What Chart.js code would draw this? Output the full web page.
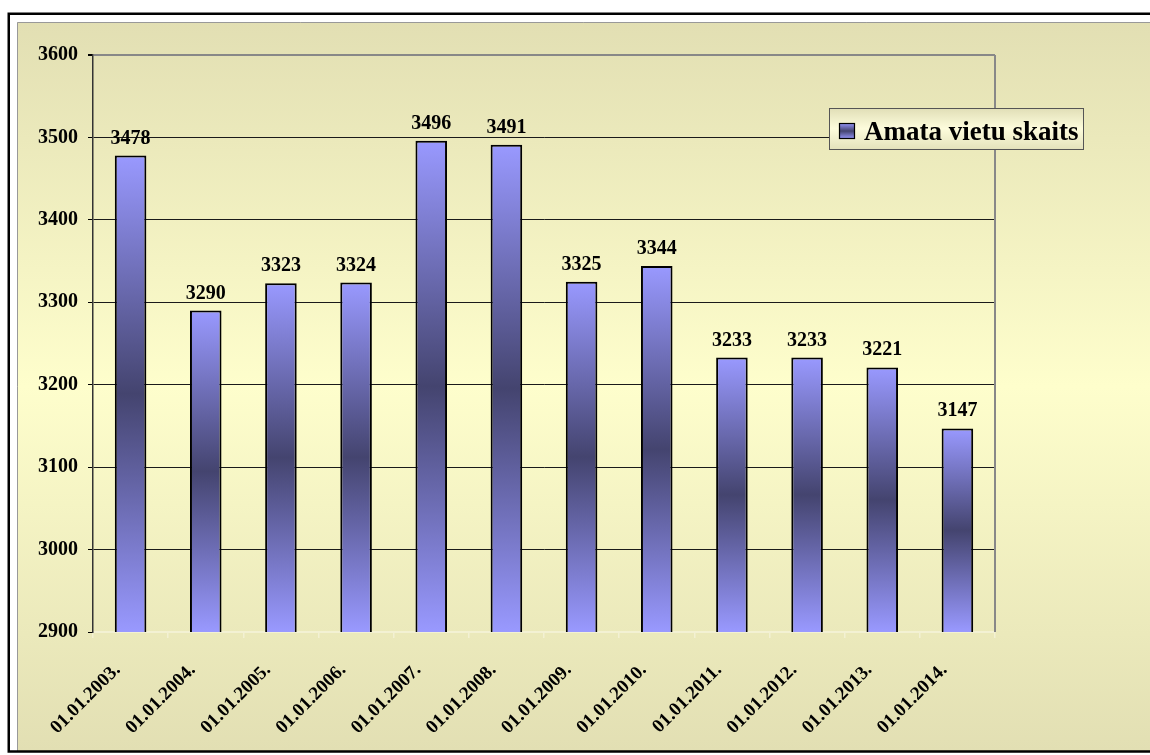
<!DOCTYPE html>
<html><head><meta charset="utf-8">
<script src="https://cdn.jsdelivr.net/npm/chart.js@4.4.1/dist/chart.umd.min.js"></script>
<style>html,body{margin:0;padding:0;background:#fff}#wrap{width:1150px;height:755px;position:relative}canvas{display:block}</style>
</head><body><div id="wrap"><canvas id="c" width="1150" height="755"></canvas></div>
<script>
const categories = ['01.01.2003.','01.01.2004.','01.01.2005.','01.01.2006.','01.01.2007.','01.01.2008.','01.01.2009.','01.01.2010.','01.01.2011.','01.01.2012.','01.01.2013.','01.01.2014.'];
const seriesName = 'Amata vietu skaits';
const values = [3478,3290,3323,3324,3496,3491,3325,3344,3233,3233,3221,3147];
const yTicks = [2900,3000,3100,3200,3300,3400,3500,3600];

const SERIF = "'Liberation Serif', 'Times New Roman', serif";
const LIGHT = '#9999ff', DARK = '#44446f';

function barGrad(g){ g.addColorStop(0, LIGHT); g.addColorStop(0.5, DARK); g.addColorStop(1, LIGHT); return g; }

const framePlugin = {
  id: 'frame',
  beforeDraw(chart){
    const c = chart.ctx, W = chart.width, H = chart.height;
    c.save();
    c.fillStyle = '#fff'; c.fillRect(0,0,W,H);
    const g = c.createLinearGradient(0, 22, 0, 751);
    g.addColorStop(0, '#e2dfb3'); g.addColorStop(0.5, '#fefecc'); g.addColorStop(1, '#e2dfb3');
    c.fillStyle = g; c.fillRect(17, 22, W - 17, 751 - 22);
    c.strokeStyle = '#999'; c.lineWidth = 1;
    c.beginPath(); c.moveTo(17.5, 751); c.lineTo(17.5, 22.5); c.lineTo(W, 22.5); c.stroke();
    c.strokeStyle = '#000'; c.lineWidth = 2.5;
    c.beginPath(); c.moveTo(W + 5, 13.75); c.lineTo(8.75, 13.75); c.lineTo(8.75, 751.5); c.lineTo(W + 5, 751.5); c.stroke();
    c.restore();
  },
  afterDatasetsDraw(chart){
    const c = chart.ctx, a = chart.chartArea;
    c.save();
    c.strokeStyle = '#888'; c.lineWidth = 2;
    c.beginPath(); c.moveTo(a.right, a.top); c.lineTo(a.right, a.bottom); c.stroke();
    // value labels
    const meta = chart.getDatasetMeta(0);
    c.fillStyle = '#000'; c.font = 'bold 20px ' + SERIF; c.textAlign = 'center'; c.textBaseline = 'alphabetic';
    meta.data.forEach((el, i) => {
      c.fillText(String(chart.data.datasets[0].data[i]), el.x, el.y - 12);
    });
    // legend
    const lx = 829, ly = 108, lw = 254, lh = 41;
    const lg = c.createLinearGradient(0, ly, 0, ly + lh);
    lg.addColorStop(0, '#e0deb6'); lg.addColorStop(0.5, '#fdfcdc'); lg.addColorStop(1, '#e4e2bc');
    c.fillStyle = lg; c.fillRect(lx, ly, lw, lh);
    c.strokeStyle = '#555'; c.lineWidth = 1; c.strokeRect(lx + 0.5, ly + 0.5, lw, lh);
    const mg = barGrad(c.createLinearGradient(0, 123, 0, 139));
    c.fillStyle = mg; c.fillRect(839, 123, 15, 16);
    c.strokeStyle = '#000'; c.lineWidth = 1.2; c.strokeRect(839.5, 123.5, 15, 15);
    c.fillStyle = '#000'; c.font = 'bold 27px ' + SERIF; c.textAlign = 'left'; c.textBaseline = 'alphabetic';
    c.fillText(chart.data.datasets[0].label, 864, 140);
    c.restore();
  }
};

new Chart(document.getElementById('c'), {
  type: 'bar',
  data: {
    labels: categories,
    datasets: [{
      label: seriesName,
      data: values,
      backgroundColor(ctx){
        const chart = ctx.chart, area = chart.chartArea;
        if (!area || ctx.type !== 'data') return LIGHT;
        const y = chart.scales.y;
        const top = y.getPixelForValue(ctx.parsed.y), bot = y.getPixelForValue(y.min);
        if (!isFinite(top) || top >= bot) return LIGHT;
        return barGrad(chart.ctx.createLinearGradient(0, top, 0, bot));
      },
      borderColor: '#000',
      borderWidth: 2,
      barPercentage: 0.42,
      categoryPercentage: 1
    }]
  },
  options: {
    responsive: false,
    animation: false,
    devicePixelRatio: 1,
    layout: { padding: { left: 20, top: 55, right: 155, bottom: 0 } },
    plugins: { legend: { display: false }, tooltip: { enabled: false } },
    scales: {
      x: {
        afterFit(s){ s.height = 123; },
        grid: { display: true, drawOnChartArea: false, offset: true, tickLength: 6, color: '#f3f1d3', lineWidth: 1.5 },
        border: { color: '#f3f1d3', width: 2 },
        ticks: { autoSkip: false, minRotation: 45, maxRotation: 45, padding: 21, labelOffset: -13, color: '#000', font: { family: SERIF, size: 19, weight: 'bold' } }
      },
      y: {
        min: yTicks[0], max: yTicks[yTicks.length - 1],
        afterFit(s){ s.width = 73; },
        afterBuildTicks(s){ s.ticks = yTicks.map(v => ({ value: v })); },
        grid: {
          color(ctx){ const v = ctx.tick && ctx.tick.value; if (v === yTicks[0]) return 'rgba(0,0,0,0)'; return v === yTicks[yTicks.length-1] ? '#888' : '#1a1a1a'; },
          lineWidth(ctx){ return ctx.tick && ctx.tick.value === yTicks[yTicks.length-1] ? 2 : 1; },
          tickColor: '#000', tickLength: 5
        },
        border: { color: '#333', width: 1.5 },
        ticks: { padding: 10, color: '#000', font: { family: SERIF, size: 20, weight: 'bold' }, callback: (v) => String(v) }
      }
    }
  },
  plugins: [framePlugin]
});
</script>
</body></html>
